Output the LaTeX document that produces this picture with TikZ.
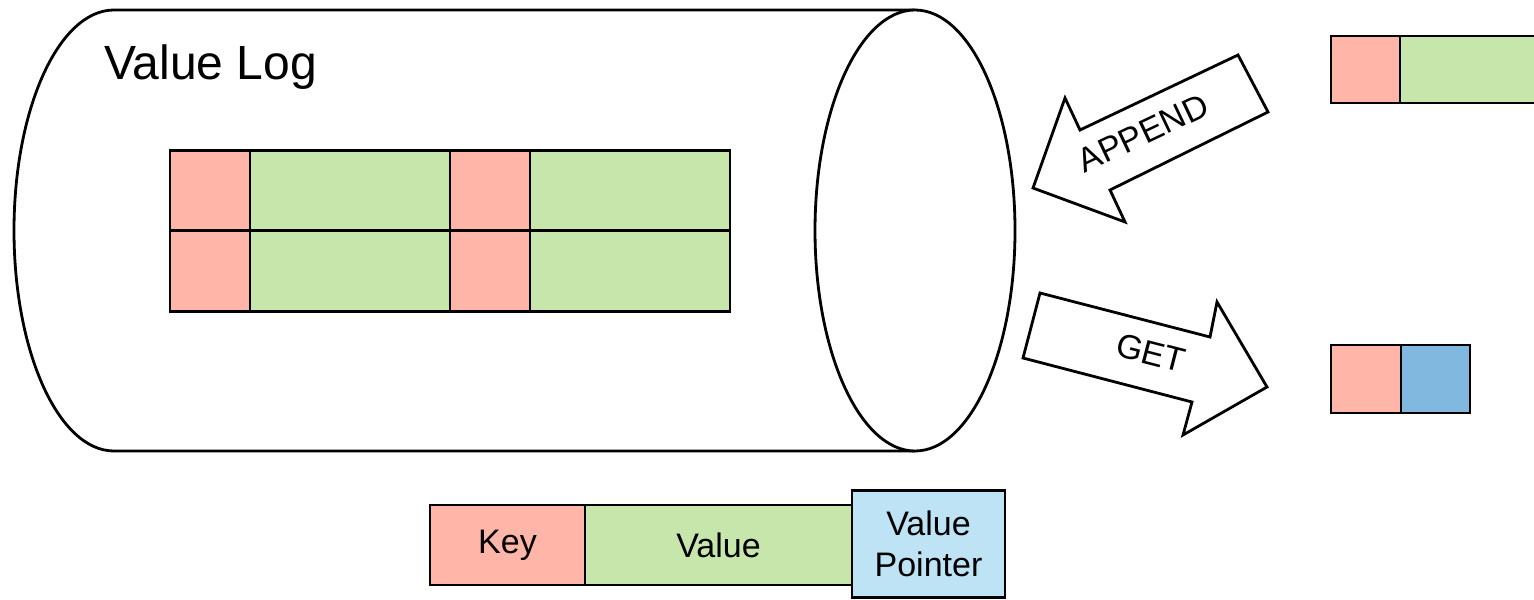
\documentclass[tikz,border=0pt]{standalone}
\usepackage{fontspec}
\setmainfont{Liberation Sans}
\definecolor{keyred}{RGB}{255,181,168}
\definecolor{valgreen}{RGB}{198,230,171}
\definecolor{ptrblue}{RGB}{190,227,245}
\definecolor{getblue}{RGB}{128,184,224}
\begin{document}
\begin{tikzpicture}[x=0.5pt,y=-0.5pt,line width=1.4pt,
  cell/.style={draw=black,line width=1.4pt,inner sep=0pt,align=center,
    font=\fontsize{17}{20.5}\selectfont},
  keycell/.style={cell,fill=keyred},
  valcell/.style={cell,fill=valgreen},
  ptrcell/.style={cell,fill=ptrblue},
  getcell/.style={cell,fill=getblue},
  blockarrow/.style={draw=black,fill=white,line width=1.4pt,line join=miter},
  arrowlabel/.style={font=\fontsize{17}{20}\selectfont,inner sep=0pt}]
\useasboundingbox (0,0) rectangle (1534,599);
% cylinder
\draw[fill=white] (915,10) -- (114,10)
  arc[start angle=90,end angle=270,x radius=50pt,y radius=110.25pt]
  -- (915,451);
\draw[fill=white] (915,230.5) ellipse[x radius=50pt,y radius=110.25pt];
\node[anchor=base west,inner sep=0pt,font=\fontsize{24}{28}\selectfont] (title) at (103,80) {Value Log};
% log content
\node[keycell,minimum width=40pt,minimum height=40.25pt] (k11) at (210,190.5) {};
\node[valcell,minimum width=100pt,minimum height=40.25pt] (v11) at (350,190.5) {};
\node[keycell,minimum width=40pt,minimum height=40.25pt] (k12) at (490,190.5) {};
\node[valcell,minimum width=100pt,minimum height=40.25pt] (v12) at (630,190.5) {};
\node[keycell,minimum width=40pt,minimum height=40.25pt] (k21) at (210,271) {};
\node[valcell,minimum width=100pt,minimum height=40.25pt] (v21) at (350,271) {};
\node[keycell,minimum width=40pt,minimum height=40.25pt] (k22) at (490,271) {};
\node[valcell,minimum width=100pt,minimum height=40.25pt] (v22) at (630,271) {};
% APPEND arrow
\draw[blockarrow] (1033,188) -- (1065,98) -- (1080,130) -- (1238,55) -- (1268,112)
  -- (1110,190) -- (1125,222) -- cycle;
\node[arrowlabel,rotate=25.4] (append) at (1143,133) {APPEND};
% GET arrow
\draw[blockarrow] (1040,293) -- (1210,337) -- (1217,302) -- (1267,387) -- (1183,435)
  -- (1192,402) -- (1023,358) -- cycle;
\node[arrowlabel,rotate=-14.5] (get) at (1151,353) {GET};
% incoming entry
\node[keycell,minimum width=34.5pt,minimum height=33.5pt] (ak) at (1365.5,69.5) {};
\node[valcell,minimum width=70pt,minimum height=33.5pt] (av) at (1470,69.5) {};
% result
\node[keycell,minimum width=35pt,minimum height=34pt] (gk) at (1366,379) {};
\node[getcell,minimum width=34.5pt,minimum height=34pt] (gp) at (1435.5,379) {};
% legend
\node[keycell,minimum width=77.5pt,minimum height=40pt] (lk) at (507.5,545) {Key};
\node[valcell,minimum width=133.5pt,minimum height=40pt] (lv) at (718.5,545) {Value};
\node[ptrcell,minimum width=76.5pt,minimum height=53.5pt] (lp) at (928.5,544) {Value\\Pointer};
\end{tikzpicture}
\end{document}
